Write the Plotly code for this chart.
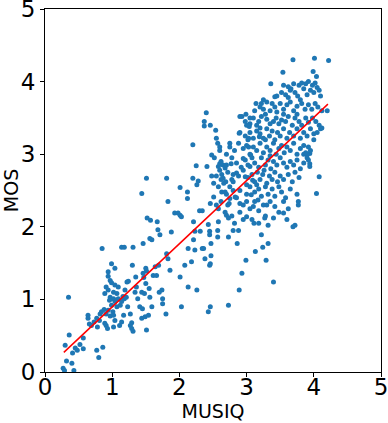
import plotly.graph_objects as go

# MUSIQ (x) and MOS (y) values
musiq = [
 0.27,0.29,0.43,0.32,0.40,0.35,0.36,0.30,0.41,0.45,0.48,0.52,0.57,0.57,0.64,0.64,0.69,0.66,0.73,0.77,
 0.80,0.86,0.78,0.82,0.84,0.88,0.77,0.81,0.85,0.91,0.93,0.91,
 0.99,0.94,1.04,0.94,0.97,0.91,0.99,1.04,1.09,0.89,0.94,1.02,1.07,0.97,1.02,0.96,1.04,1.09,1.14,1.16,
 0.99,1.07,1.12,1.18,1.21,0.94,1.01,0.97,1.02,0.89,1.02,1.11,1.14,1.17,1.04,1.14,1.18,1.22,1.24,1.19,
 1.23,1.27,1.29,1.27,1.31,1.29,1.31,1.30,1.35,1.36,1.34,1.38,1.44,1.41,1.45,1.44,1.49,1.48,1.50,1.47,
 1.51,1.46,1.50,1.51,1.54,1.59,1.56,1.55,1.61,1.66,1.64,1.69,1.70,1.74,1.75,1.75,1.80,
 1.44,1.51,1.52,1.57,1.56,1.59,1.46,1.67,1.68,1.71,1.81,1.83,1.81,1.83,1.86,1.88,1.93,1.98,2.01,2.03,
 2.01,2.01,2.03,2.08,2.12,2.12,2.13,2.13,2.18,2.20,2.20,2.21,2.21,2.23,2.25,2.23,2.26,2.28,2.26,2.30,
 2.34,2.34,2.31,2.36,2.37,2.37,2.40,2.38,2.41,2.43,2.46,2.43,2.45,2.45,2.45,2.46,2.47,2.47,2.46,2.46,
 2.48,2.51,2.51,2.54,2.55,2.57,2.57,2.57,2.58,2.58,2.58,2.60,2.60,2.63,2.60,2.63,2.65,2.65,2.68,2.68,
 2.69,2.70,2.73,2.73,2.73,2.74,2.75,2.75,2.77,2.78,2.80,2.80,2.83,2.85,2.86,2.88,2.89,2.89,2.90,2.93,
 2.93,2.95,2.98,2.99,2.99,3.00,3.00,3.00,3.03,3.03,3.04,3.05,3.06,3.07,3.09,3.10,3.11,3.13,3.14,3.17,
 3.19,3.20,3.22,3.24,3.25,3.27,3.29,3.32,3.36,3.40,3.42,3.54,3.55,3.60,3.69,3.69,3.72,3.77,3.77,4.01,
 4.22,3.99,4.04,4.04,4.08,3.94,3.94,3.94,
 3.55,3.62,3.70,3.78,3.82,3.88,3.92,3.98,4.02,4.05,3.66,
 3.45,3.52,3.58,3.65,3.72,3.76,3.85,3.90,3.95,4.00,4.08,4.10,3.62,3.80,
 3.30,3.38,3.42,3.50,3.55,3.60,3.65,3.70,3.75,3.82,3.87,3.92,3.97,4.02,4.06,4.12,4.20,3.25,3.35,3.45,
 3.10,3.18,3.22,3.30,3.35,3.40,3.44,3.48,3.52,3.58,3.62,3.68,3.72,3.78,3.82,3.88,3.92,3.98,4.03,4.08,
 4.12,3.05,3.15,3.55,3.75,
 2.90,2.98,3.05,3.10,3.15,3.20,3.25,3.30,3.34,3.38,3.42,3.46,3.50,3.55,3.60,3.64,3.70,3.75,3.80,3.85,
 3.90,3.95,4.00,3.02,3.28,
 2.75,2.82,2.88,2.95,3.00,3.05,3.10,3.15,3.20,3.25,3.30,3.35,3.40,3.44,3.48,3.52,3.56,3.60,3.65,3.70,
 3.75,3.80,3.85,3.90,3.95,3.92,
 2.62,2.70,2.78,2.85,2.92,2.98,3.02,3.08,3.12,3.18,3.22,3.28,3.32,3.36,3.40,3.45,3.50,3.55,3.60,3.65,
 3.70,3.75,3.80,3.85,3.90,3.35,
 2.55,2.62,2.72,2.80,2.88,2.95,3.02,3.08,3.12,3.16,3.20,3.24,3.30,3.34,3.38,3.42,3.46,3.50,3.55,3.62,
 3.68,3.72,3.78,3.26,
 2.90,3.00,3.05,3.12,3.18,3.22,3.28,3.32,3.38,3.42,3.48,3.52,3.58,3.65,3.75,3.15,
 2.95,3.05,3.12,3.18,3.25,3.30,3.35,3.42,3.48,3.55,3.62,
 3.08,3.18,3.28,3.32,3.40,
 2.62,2.68,2.72,2.78,2.82,2.90,2.95,2.85,2.70,2.55,2.75,
 2.52,2.60,2.66,2.70,2.80,2.58,2.48,
 2.90,2.98,3.05,3.12,3.20,3.22,3.28,3.00,
 3.85,3.88,3.92,4.10,4.00,4.05,
]
mos = [
 0.05,0.02,0.02,0.15,0.12,1.03,0.51,0.37,0.26,0.33,0.30,0.38,0.47,0.32,0.78,0.74,0.64,0.66,0.69,0.30,
 0.20,0.34,0.62,0.80,0.83,0.86,0.74,0.71,1.70,0.64,0.60,0.80,
 1.49,1.38,1.43,1.32,1.26,1.17,1.23,1.20,1.17,1.08,1.13,1.10,1.08,1.03,1.01,0.99,0.97,1.01,0.97,1.04,
 0.92,0.90,0.92,1.01,1.03,0.85,0.83,0.77,0.78,0.67,0.62,0.64,0.69,0.78,0.71,1.72,1.72,1.24,1.25,1.13,
 0.90,0.80,0.68,0.64,0.56,0.60,1.72,1.47,1.31,1.17,1.10,1.01,1.10,0.90,0.87,0.74,0.76,1.08,1.22,1.30,
 1.39,1.36,1.43,0.58,0.78,0.90,1.03,1.15,1.33,1.33,1.45,1.47,1.10,1.13,1.01,0.94,0.80,
 2.46,2.67,2.12,2.09,1.84,1.82,1.77,2.07,1.96,1.89,2.67,2.35,1.63,1.56,1.40,1.93,2.19,2.19,2.16,2.14,
 2.54,1.31,0.90,1.47,2.48,2.39,1.70,1.17,1.52,3.13,2.67,2.07,1.82,1.68,2.84,1.94,2.58,2.63,1.13,2.22,
 2.22,1.70,1.94,1.70,3.45,3.39,3.57,1.56,2.83,0.83,0.90,2.03,1.94,1.89,1.47,1.49,1.60,1.77,2.32,3.40,
 2.99,2.60,2.41,3.33,3.22,3.15,1.86,1.95,2.07,2.25,2.83,2.87,2.78,2.48,3.10,2.72,2.85,2.67,2.48,2.81,
 2.62,2.16,0.92,1.86,2.12,2.32,3.15,2.39,2.87,2.65,2.50,1.95,2.41,2.74,1.77,1.95,3.29,1.13,2.32,1.36,
 3.52,2.94,2.69,1.54,3.55,2.58,2.35,2.14,3.10,3.22,3.38,2.83,2.99,2.44,2.64,2.28,2.05,1.66,3.70,2.37,
 3.24,3.36,1.89,1.72,3.75,2.12,1.54,1.77,3.97,1.24,3.79,4.13,2.19,2.10,4.30,2.00,2.02,2.35,2.30,4.32,
 4.29,4.14,4.07,2.46,2.69,2.87,2.83,3.01,
 3.95,3.93,3.97,3.95,3.98,3.97,4.00,3.95,3.98,3.92,3.90,
 3.80,3.85,3.82,3.88,3.85,3.80,3.90,3.82,3.88,3.85,3.88,3.80,3.78,3.75,
 3.72,3.70,3.65,3.70,3.62,3.68,3.72,3.60,3.66,3.70,3.62,3.68,3.62,3.70,3.65,3.60,3.60,3.62,3.60,3.58,
 3.50,3.45,3.52,3.48,3.42,3.45,3.50,3.42,3.47,3.45,3.52,3.40,3.50,3.45,3.40,3.50,3.44,3.50,3.45,3.40,
 3.36,3.42,3.40,3.55,3.55,
 3.30,3.25,3.30,3.22,3.32,3.28,3.22,3.35,3.25,3.32,3.20,3.30,3.25,3.35,3.22,3.30,3.25,3.35,3.22,3.30,
 3.25,3.35,3.28,3.20,3.20,
 3.10,3.05,3.15,3.08,3.12,3.00,3.10,3.05,3.15,3.02,3.10,3.05,3.15,3.00,3.08,3.12,3.02,3.10,3.05,3.15,
 3.00,3.08,3.12,3.00,3.05,3.10,
 2.90,2.85,2.95,2.88,2.82,2.92,2.85,2.95,2.88,2.82,2.95,2.85,2.92,2.80,2.90,2.85,2.95,2.88,2.82,2.90,
 2.85,2.92,2.80,2.88,2.95,2.98,
 2.70,2.65,2.75,2.62,2.70,2.78,2.68,2.72,2.62,2.75,2.65,2.72,2.60,2.70,2.65,2.75,2.62,2.70,2.65,2.72,
 2.62,2.75,2.68,2.78,
 2.50,2.45,2.55,2.48,2.52,2.42,2.55,2.45,2.52,2.42,2.55,2.48,2.40,2.52,2.45,2.58,
 2.30,2.25,2.35,2.22,2.30,2.30,2.35,2.28,2.20,2.35,2.25,
 2.10,2.05,2.15,2.02,2.12,
 2.35,2.20,2.30,2.15,2.05,2.20,2.10,2.40,2.45,2.30,2.55,
 2.95,3.05,2.60,3.00,2.72,2.55,2.70,
 3.52,3.45,3.50,3.60,3.65,3.70,3.55,3.40,
 3.00,3.02,2.92,3.35,3.20,3.30,
]

# regression line endpoints
fit_x = [0.28, 4.21]
fit_y = [0.27, 3.69]

n = min(len(musiq), len(mos))

fig = go.Figure()
fig.add_trace(go.Scatter(x=musiq[:n], y=mos[:n], mode="markers",
                         marker=dict(color="#1f77b4", size=5, line=dict(width=0)),
                         showlegend=False, hoverinfo="skip"))
fig.add_trace(go.Scatter(x=fit_x, y=fit_y, mode="lines",
                         line=dict(color="red", width=1.5), showlegend=False))

axis_common = dict(range=[0, 5], tickvals=[0, 1, 2, 3, 4, 5], showgrid=False, zeroline=False,
                   showline=True, linecolor="black", linewidth=1, mirror=True,
                   ticks="outside", ticklen=4, tickcolor="black",
                   ticklabeloverflow="allow", automargin=False,
                   tickfont=dict(family="DejaVu Sans", size=23, color="black"))

fig.update_layout(
    width=388, height=423,
    margin=dict(l=45, r=7, t=9, b=51),
    paper_bgcolor="white", plot_bgcolor="white",
    xaxis=dict(**axis_common, ticklabelstandoff=-10,
               title=dict(text="MUSIQ", font=dict(family="DejaVu Sans", size=19, color="black"), standoff=3)),
    yaxis=dict(**axis_common,
               title=dict(text="MOS", font=dict(family="DejaVu Sans", size=19, color="black"), standoff=3)),
)

fig.write_html("out.html")
